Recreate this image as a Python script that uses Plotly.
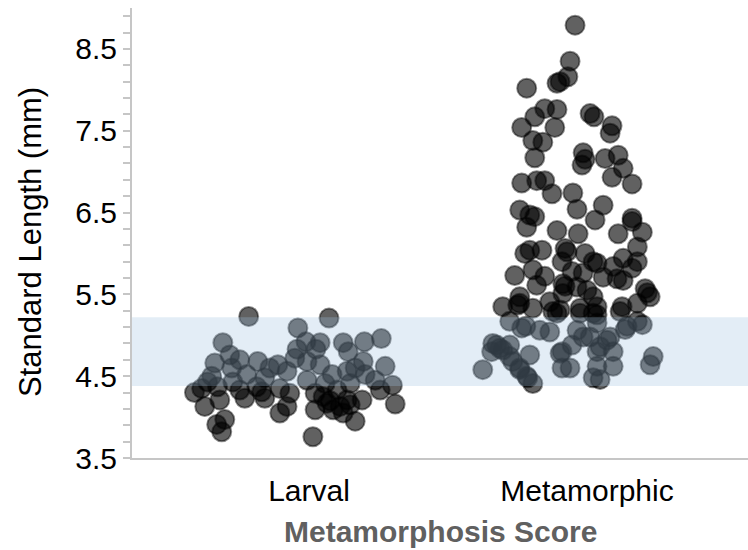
import plotly.graph_objects as go

# ---- data ----
categories = ["Larval", "Metamorphic"]

larval_jitter = [-0.217, 0.072, -0.040, -0.310, 0.260, 0.199, 0.123, 0.040, -0.011, -0.043,
                 0.025, -0.285, -0.339, -0.249, -0.184, -0.112, -0.051, -0.007, 0.040, 0.141,
                 0.195, 0.274, -0.350, -0.278, -0.224, -0.159, -0.079, 0.083, 0.137, 0.202,
                 0.300, -0.386, -0.329, -0.249, -0.170, -0.105, -0.069, 0.022, 0.101, 0.256,
                 -0.375, -0.321, -0.231, -0.159, -0.105, -0.079, 0.022, 0.065, 0.112, 0.137,
                 0.191, 0.166, 0.310, -0.332, -0.314, -0.303, 0.014, 0.087, -0.365, 0.058,
                 0.148, -0.007, -0.188, -0.274, 0.076, 0.123, 0.051, 0.148, -0.412, -0.141,
                 0.166, 0.238]
larval_length = [5.23, 5.21, 5.09, 4.91, 4.96, 4.92, 4.91, 4.91, 4.92, 4.83,
                 4.83, 4.76, 4.66, 4.70, 4.68, 4.64, 4.72, 4.68, 4.64, 4.80,
                 4.68, 4.62, 4.50, 4.60, 4.52, 4.48, 4.56, 4.52, 4.56, 4.52,
                 4.39, 4.35, 4.37, 4.33, 4.31, 4.35, 4.29, 4.29, 4.33, 4.33,
                 4.13, 4.21, 4.23, 4.23, 4.05, 4.13, 4.09, 4.17, 4.13, 4.21,
                 4.21, 3.95, 4.16, 3.91, 3.82, 3.97, 3.76, 4.09, 4.43, 4.41,
                 4.41, 4.45, 4.37, 4.43, 4.20, 4.05, 4.25, 4.15, 4.30, 4.60,
                 4.60, 4.45]

meta_jitter = [-0.043, -0.061, -0.069, -0.097, -0.108, -0.217, -0.152, -0.108, -0.188, -0.235,
               -0.116, 0.011, 0.025, 0.090, 0.083, -0.195, -0.159, -0.014, -0.188, -0.007,
               0.065, 0.112, -0.018, 0.130, 0.090, 0.162, -0.235, -0.181, -0.152, -0.126,
               -0.051, -0.036, 0.058, -0.242, -0.188, -0.217, 0.029, 0.162, 0.162, -0.108,
               -0.032, 0.112, 0.199, -0.206, -0.162, -0.079, -0.007, 0.181, 0.181, 0.130,
               0.036, 0.094, -0.090, -0.195, -0.260, -0.054, -0.014, 0.058, 0.130, -0.181,
               -0.087, 0.000, 0.209, 0.227, 0.181, -0.242, -0.303, -0.134, 0.036, -0.025,
               0.126, -0.249, -0.195, -0.108, -0.087, -0.025, 0.036, 0.119, 0.181, -0.278,
               -0.235, -0.170, -0.134, -0.036, 0.011, 0.072, 0.144, 0.199, -0.339, -0.314,
               -0.343, -0.278, -0.206, -0.097, -0.054, 0.036, 0.094, 0.238, 0.227, -0.375,
               -0.242, -0.213, -0.195, -0.090, -0.061, 0.036, 0.094, 0.022, 0.137, 0.083,
               0.047, -0.242, -0.123, -0.097, -0.220, 0.036, -0.325, -0.303, -0.278, -0.267,
               -0.242, -0.217, -0.090, 0.047, -0.014, 0.022, -0.206, -0.224, -0.072, 0.022,
               0.162, -0.079, -0.152, -0.036, 0.022, 0.108, 0.217]
meta_length = [8.79, 8.35, 8.16, 8.10, 8.08, 8.02, 7.77, 7.76, 7.67, 7.54,
               7.54, 7.71, 7.67, 7.56, 7.47, 7.38, 7.36, 7.23, 7.17, 7.15,
               7.16, 7.20, 7.08, 7.04, 6.93, 6.85, 6.86, 6.89, 6.89, 6.73,
               6.74, 6.54, 6.59, 6.53, 6.45, 6.32, 6.41, 6.43, 6.39, 6.28,
               6.24, 6.24, 6.26, 6.04, 6.04, 6.06, 6.00, 6.08, 5.90, 5.94,
               5.88, 5.84, 5.90, 5.80, 5.73, 5.78, 5.76, 5.71, 5.67, 5.61,
               5.63, 5.55, 5.57, 5.47, 5.39, 5.47, 5.35, 5.41, 5.35, 5.33,
               5.35, 5.37, 5.33, 5.27, 5.51, 5.27, 5.25, 5.29, 5.17, 5.17,
               5.09, 5.06, 5.04, 5.06, 4.98, 4.94, 5.11, 5.13, 4.90, 4.84,
               4.80, 4.74, 4.76, 4.78, 4.88, 4.80, 4.80, 4.74, 4.64, 4.58,
               4.60, 4.48, 4.41, 4.60, 4.60, 4.62, 4.62, 4.48, 5.07, 4.98,
               4.46, 5.39, 5.29, 5.31, 5.11, 5.15, 4.88, 4.82, 4.88, 4.68,
               4.58, 4.50, 4.80, 4.86, 4.98, 5.27, 6.47, 6.00, 6.02, 5.90,
               5.82, 5.60, 5.72, 5.59, 5.47, 5.69, 5.52]

band_low, band_high = 4.38, 5.22
y_min, y_max = 3.5, 9.0

FONT = "Arial, Liberation Sans, sans-serif"

fig = go.Figure()
for i, (jit, vals) in enumerate([(larval_jitter, larval_length), (meta_jitter, meta_length)]):
    fig.add_trace(go.Scatter(
        x=[i + 1 + j for j in jit], y=vals, mode="markers",
        marker=dict(size=19, color="rgba(0,0,0,0.62)",
                    line=dict(color="rgba(0,0,0,0.45)", width=2)),
        showlegend=False, hoverinfo="skip"))

fig.add_shape(type="rect", xref="paper", yref="y", x0=0, x1=1, y0=band_low, y1=band_high,
              fillcolor="rgb(158,193,224)", opacity=0.29, line=dict(width=0), layer="above")

fig.update_layout(
    width=748, height=550, margin=dict(l=132, r=0, t=8, b=92),
    plot_bgcolor="white", paper_bgcolor="white",
    font=dict(family=FONT, color="black", size=30),
    xaxis=dict(range=[0.3633, 2.579], tickvals=[1, 2], ticktext=categories,
               showline=True, linecolor="#c6c6c6", linewidth=2, showgrid=False,
               zeroline=False, ticks="", tickfont=dict(size=30), ticklabelstandoff=5),
    yaxis=dict(range=[y_min, y_max], tick0=3.5, dtick=1, ticks="outside", ticklen=7,
               tickcolor="#c6c6c6", tickwidth=1.5, showline=True, linecolor="#c6c6c6",
               linewidth=2, showgrid=False, zeroline=False, tickfont=dict(size=30),
               minor=dict(tick0=3.5, dtick=0.2, ticks="outside", ticklen=7,
                          tickcolor="#c6c6c6", tickwidth=1.5, showgrid=False)),
    annotations=[
        dict(text="Standard Length (mm)", xref="paper", yref="paper", x=-0.1656, y=0.48,
             xanchor="center", yanchor="middle", textangle=-90, showarrow=False,
             font=dict(size=31, color="black", family=FONT)),
        dict(text="<b>Metamorphosis Score</b>", xref="paper", yref="paper", x=0.5, y=-0.164,
             xanchor="center", yanchor="middle", showarrow=False,
             font=dict(size=30, color="#606060", family=FONT)),
    ],
)

fig.write_html("out.html")
